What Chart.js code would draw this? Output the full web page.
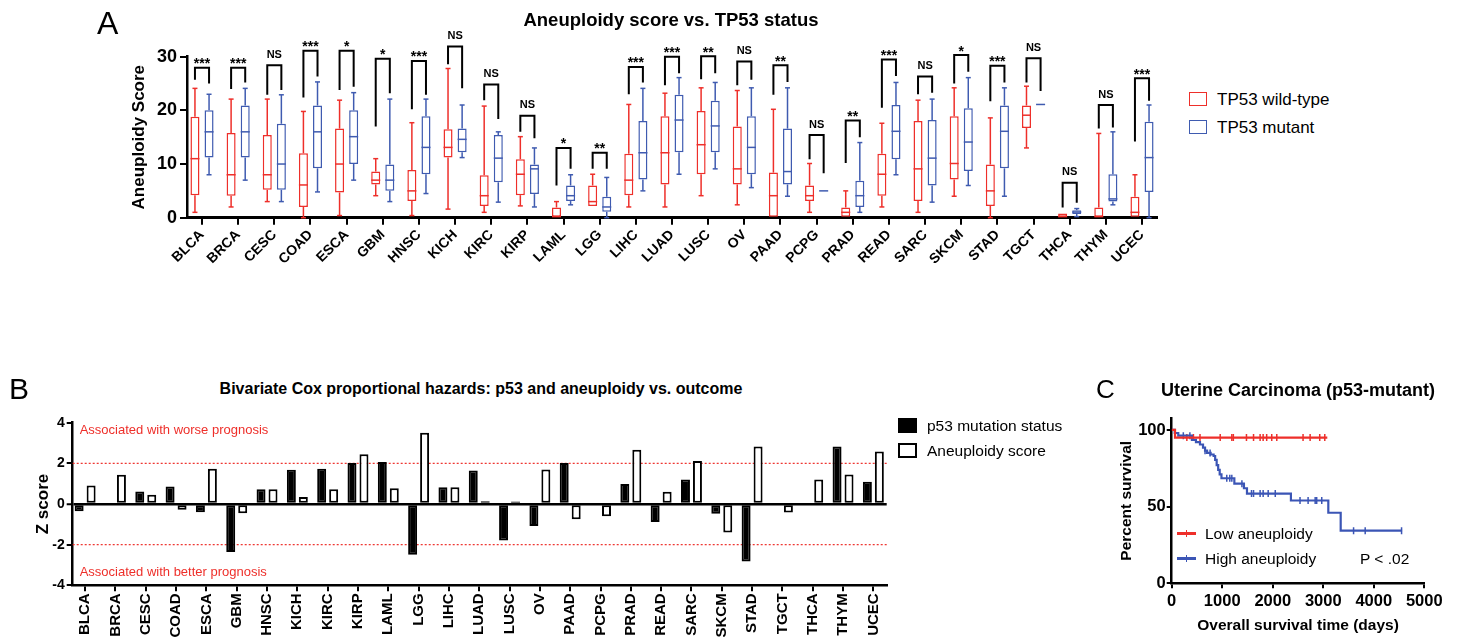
<!DOCTYPE html>
<html>
<head>
<meta charset="utf-8">
<script src="https://cdn.jsdelivr.net/npm/chart.js@4"></script>
<style>
body { margin: 0; background: #fff; font-family: "Liberation Sans", Arial, sans-serif; }
#page { position: relative; width: 1457px; height: 641px; overflow: hidden; background: #fff; }
canvas { position: absolute; }
.txt { position: absolute; white-space: nowrap; color: #000; line-height: 1; }
.center { transform: translate(-50%, -50%); }
.mid { transform: translateY(-50%); }
.bold { font-weight: bold; }
.swatch { position: absolute; box-sizing: border-box; }
</style>
</head>
<body>
<div id="page">
  <canvas id="chartA" width="1170" height="290" style="left:0;top:0"></canvas>
  <canvas id="chartB" width="900" height="241" style="left:0;top:400px"></canvas>
  <canvas id="chartC" width="357" height="241" style="left:1100px;top:400px"></canvas>

  <div class="txt" style="left:97px;top:7px;font-size:32px">A</div>
  <div class="txt bold center" style="left:671px;top:20px;font-size:18.5px">Aneuploidy score vs. TP53 status</div>
  <div class="swatch" style="left:1189px;top:92px;width:18px;height:14px;border:1.5px solid #ee2f2a"></div>
  <div class="txt mid" style="left:1217px;top:99px;font-size:17px">TP53 wild-type</div>
  <div class="swatch" style="left:1189px;top:120px;width:18px;height:14px;border:1.5px solid #3f5bb0"></div>
  <div class="txt mid" style="left:1217px;top:127px;font-size:17px">TP53 mutant</div>

  <div class="txt" style="left:9px;top:374px;font-size:30px">B</div>
  <div class="txt bold center" style="left:481px;top:389px;font-size:16px">Bivariate Cox proportional hazards: p53 and aneuploidy vs. outcome</div>
  <div class="swatch" style="left:898px;top:418px;width:19px;height:15px;background:#000"></div>
  <div class="txt mid" style="left:927px;top:426px;font-size:15.5px">p53 mutation status</div>
  <div class="swatch" style="left:898px;top:443px;width:19px;height:15px;border:2px solid #000;background:#fff"></div>
  <div class="txt mid" style="left:927px;top:451px;font-size:15.5px">Aneuploidy score</div>

  <div class="txt" style="left:1096px;top:376px;font-size:26px">C</div>
  <div class="txt bold center" style="left:1298px;top:390px;font-size:18px">Uterine Carcinoma (p53-mutant)</div>
  <div class="swatch" style="left:1177px;top:532px;width:19px;height:2.5px;background:#ee2f2a"></div>
  <div class="swatch" style="left:1185.5px;top:530px;width:1.5px;height:7px;background:#ee2f2a"></div>
  <div class="txt mid" style="left:1205px;top:534px;font-size:15.5px">Low aneuploidy</div>
  <div class="swatch" style="left:1177px;top:557px;width:19px;height:2.5px;background:#3b55b5"></div>
  <div class="swatch" style="left:1185.5px;top:555px;width:1.5px;height:7px;background:#3b55b5"></div>
  <div class="txt mid" style="left:1205px;top:559px;font-size:15.5px">High aneuploidy</div>
  <div class="txt mid" style="left:1360px;top:559px;font-size:15.5px">P &lt; .02</div>
</div>

<script>
const cancerTypes = ['BLCA', 'BRCA', 'CESC', 'COAD', 'ESCA', 'GBM', 'HNSC', 'KICH', 'KIRC', 'KIRP', 'LAML', 'LGG', 'LIHC',
    'LUAD', 'LUSC', 'OV', 'PAAD', 'PCPG', 'PRAD', 'READ', 'SARC', 'SKCM', 'STAD', 'TGCT', 'THCA', 'THYM', 'UCEC'];

// Panel A: box plots (whisker low, q1, median, q3, whisker high)
const wtMin = [1, 2, 3, 0, 0.4, 4.1, 0.4, 1.6, 1, 2.2, 0, 2.2, 2, 2, 4.1, 2.4, 0, 1, 0, 2, 1, 4, 0, 13, 0, 0, 0];
const wtQ1 = [4.2, 4.1, 5.2, 2, 4.7, 6.2, 3.1, 11.2, 2.2, 4.2, 0, 2.2, 4.2, 6.2, 8.1, 6.2, 0, 3.1, 0, 4.1, 3.1, 7.1, 2.2, 16.7, 0, 0, 0];
const wtMed = [11, 8, 8, 6.1, 10, 7, 5, 13.1, 4.1, 8.1, 0.2, 3, 7, 12.1, 13.6, 9.1, 4.1, 4.1, 1, 8.1, 9.1, 10.1, 5, 19.1, 0.2, 0.2, 1];
const wtQ3 = [18.8, 15.8, 15.4, 12, 16.6, 8.6, 8.9, 16.5, 7.9, 10.9, 1.9, 6, 11.9, 18.9, 19.9, 17, 8.4, 6, 1.9, 11.9, 18, 18.9, 9.9, 20.9, 0.8, 1.9, 3.9];
const wtMax = [24.1, 22.1, 22.1, 19.8, 21.9, 11, 17.7, 27.8, 20.8, 15.1, 3, 8.1, 21.1, 23.2, 24.2, 23.7, 20.2, 10.1, 5, 17.6, 21.9, 24.2, 18.6, 24.5, 0.8, 15.7, 8];

const mutMin = [8, 7, 3, 4.8, 7, 3, 4.5, 11.2, 2.9, 2, 2.4, 0, 5, 8.1, 9.1, 5.6, 4, 5, 1, 8, 2.9, 6, 4, 21.1, 0.2, 2.4, 0];
const mutQ1 = [11.2, 11.2, 5.2, 9.2, 10, 5, 8.1, 12.2, 6.6, 4.4, 3.1, 1.1, 7.1, 12.2, 12.2, 8.1, 6.2, 5, 2, 10.9, 6, 8.7, 9.2, 21.1, 0.7, 3, 4.8];
const mutMed = [16, 16, 10, 16, 15.1, 7, 13.1, 14.6, 11.1, 9.1, 4.1, 2, 12.1, 18.2, 17.1, 13.1, 8.6, 5, 4.1, 16.1, 11.1, 14.1, 16.1, 21.1, 1.05, 3.5, 11.2];
const mutQ3 = [20, 20.9, 17.5, 20.9, 20, 9.9, 18.9, 16.6, 15.4, 9.9, 6, 3.9, 18, 22.9, 21.8, 18.9, 16.6, 5, 6.9, 21, 18.2, 20.4, 20.9, 21.1, 1.4, 8.1, 17.9];
const mutMax = [23, 24.1, 22.9, 25.3, 23.3, 22.1, 22.1, 21, 16, 13, 8, 7.5, 24.1, 26.1, 25.2, 24.2, 24.2, 5, 14, 25.2, 22.1, 26.1, 24.2, 21.1, 1.7, 16, 21];

// significance brackets: top of bracket, bottom of left leg, bottom of right leg
const bracketTop = [27.95, 27.95, 28.4, 31.1, 31.1, 29.6, 29.2, 31.9, 24.8, 19, 13, 12.1, 28.1, 30, 30.1, 29.1, 28.4, 15.4, 18.1, 29.5, 26.3, 30.3, 28.3, 29.7, 6.5, 21, 26];
const bracketLeft = [25.7, 24, 22.9, 22.4, 23.8, 17, 20.2, 28.6, 21.9, 16, 6, 9.1, 23, 24.7, 25.8, 24.7, 22.9, 10.9, 10.2, 20.5, 23, 25, 21.7, 25.2, 1.9, 16.6, 14.2];
const bracketRight = [25, 25.2, 23.8, 26.3, 24.4, 23.2, 22.9, 24.1, 18.4, 14.8, 9.1, 9.1, 25.2, 26.9, 26.9, 25.7, 25.3, 8.3, 15, 26.4, 23.3, 27.2, 25.2, 23.6, 2.8, 16.8, 21.8];
const sigLabels = ['***', '***', 'NS', '***', '*', '*', '***', 'NS', 'NS', 'NS', '*', '**', '***', '***', '**', 'NS', '**', 'NS', '**', '***', 'NS', '*', '***', 'NS', 'NS', 'NS', '***'];
const scoreTicks = [0, 10, 20, 30];

// Panel B: Z scores
const p53Z = [-0.36, 0, 0.61, 0.86, -0.41, -2.36, 0.73, 1.69, 1.74, 2.02, 2.07, -2.5, 0.82, 1.65, -1.8, -1.08, 2.02, 0, 0.98, -0.88, 1.2, -0.48, -2.83, 0, 0, 2.83, 1.1];
const aneuZ = [0.91, 1.44, 0.46, -0.28, 1.74, -0.46, 0.73, 0.35, 0.73, 2.45, 0.77, 3.5, 0.82, 0.13, 0.12, 1.7, -0.75, -0.6, 2.67, 0.6, 2.12, -1.4, 2.83, -0.42, 1.2, 1.45, 2.58];
const zTicks = [-4, -2, 0, 2, 4];
const refLines = [2, -2];
const noteTexts = ['Associated with worse prognosis', 'Associated with better prognosis'];
const noteZ = [3.64, -3.35];

// Panel C: Kaplan-Meier steps (day of drop, percent after it)
const lowTimes = [0, 66, 3080];
const lowPct = [100, 95, 95];
const lowCensor = [300, 430, 560, 960, 1190, 1220, 1480, 1620, 1750, 1810, 1880, 1980, 2080, 2600, 2740, 2930, 3030];
const highTimes = [0, 60, 130, 400, 480, 560, 620, 660, 700, 770, 830, 860, 890, 920, 950, 985, 1240, 1430, 1490, 2360, 3100, 3345, 4560];
const highPct = [100, 98, 96.3, 93.5, 92, 90.5, 88.5, 86.5, 85, 84, 83, 80.5, 77, 74, 71, 68.5, 65, 62, 58.5, 54, 46, 34.3, 34.3];
const highCensor = [230, 360, 660, 760, 1090, 1150, 1190, 1390, 1580, 1620, 1750, 1810, 1910, 2050, 2540, 2700, 2840, 2870, 2970, 3600, 3830, 4550];
const dayTicks = [0, 1000, 2000, 3000, 4000, 5000];
const pctTicks = [0, 50, 100];

const RED = '#ee2f2a';
const BLUE = '#3f5bb0';
const KM_BLUE = '#3b55b5';
const FONT = "'Liberation Sans', Arial, sans-serif";

Chart.defaults.font.family = FONT;
Chart.defaults.color = '#000';
Chart.defaults.animation = false;
Chart.defaults.plugins.legend.display = false;
Chart.defaults.plugins.tooltip.enabled = false;

function setTicks(values) {
    return (scale) => { scale.ticks = values.map(v => ({ value: v })); };
}

function line(ctx, x1, y1, x2, y2) {
    ctx.beginPath();
    ctx.moveTo(x1, y1);
    ctx.lineTo(x2, y2);
    ctx.stroke();
}

// whiskers, medians and the significance brackets
const boxExtras = {
    id: 'boxExtras',
    afterDatasetsDraw(chart) {
        const ctx = chart.ctx;
        const y = chart.scales.y;
        const stats = [
            { color: RED, min: wtMin, med: wtMed, q1: wtQ1, q3: wtQ3, max: wtMax },
            { color: BLUE, min: mutMin, med: mutMed, q1: mutQ1, q3: mutQ3, max: mutMax }
        ];
        ctx.save();
        stats.forEach((s, d) => {
            const meta = chart.getDatasetMeta(d);
            ctx.strokeStyle = s.color;
            ctx.lineWidth = 1.5;
            meta.data.forEach((bar, i) => {
                const x = bar.x;
                const hw = bar.width / 2;
                const pMed = y.getPixelForValue(s.med[i]);
                line(ctx, x - hw, pMed, x + hw, pMed);
                if (s.max[i] > s.q3[i]) {
                    const pMax = y.getPixelForValue(s.max[i]);
                    line(ctx, x, y.getPixelForValue(s.q3[i]), x, pMax);
                    line(ctx, x - 2.5, pMax, x + 2.5, pMax);
                }
                if (s.min[i] < s.q1[i]) {
                    const pMin = y.getPixelForValue(s.min[i]);
                    line(ctx, x, y.getPixelForValue(s.q1[i]), x, pMin);
                    line(ctx, x - 2.5, pMin, x + 2.5, pMin);
                }
            });
        });

        const left = chart.getDatasetMeta(0).data;
        const right = chart.getDatasetMeta(1).data;
        ctx.strokeStyle = '#000';
        ctx.fillStyle = '#000';
        ctx.lineWidth = 2;
        ctx.textAlign = 'center';
        ctx.textBaseline = 'alphabetic';
        cancerTypes.forEach((c, i) => {
            const xl = left[i].x;
            const xr = right[i].x;
            const top = y.getPixelForValue(bracketTop[i]);
            ctx.beginPath();
            ctx.moveTo(xl, y.getPixelForValue(bracketLeft[i]));
            ctx.lineTo(xl, top);
            ctx.lineTo(xr, top);
            ctx.lineTo(xr, y.getPixelForValue(bracketRight[i]));
            ctx.stroke();
            if (sigLabels[i] === 'NS') {
                ctx.font = 'bold 11px ' + FONT;
                ctx.fillText('NS', (xl + xr) / 2, top - 7.5);
            } else {
                ctx.font = 'bold 14px ' + FONT;
                ctx.fillText(sigLabels[i], (xl + xr) / 2, top + 0.5);
            }
        });
        ctx.restore();
    }
};

// dotted +/-2 lines and the notes inside panel B
const zoneLines = {
    id: 'zoneLines',
    beforeDatasetsDraw(chart) {
        const { ctx, chartArea, scales } = chart;
        ctx.save();
        ctx.strokeStyle = RED;
        ctx.lineWidth = 1.2;
        ctx.setLineDash([2, 2]);
        refLines.forEach(v => {
            const py = scales.y.getPixelForValue(v);
            line(ctx, chartArea.left, py, chartArea.right, py);
        });
        ctx.setLineDash([]);
        ctx.fillStyle = RED;
        ctx.font = '13px ' + FONT;
        ctx.textBaseline = 'middle';
        noteTexts.forEach((t, i) => ctx.fillText(t, chartArea.left + 7, scales.y.getPixelForValue(noteZ[i])));
        ctx.restore();
    }
};

function axisGrid(len) {
    return { display: true, drawOnChartArea: false, drawTicks: true, tickLength: len, color: '#000', lineWidth: 2 };
}

function loadChartA() {
    const boxData = (q1, q3) => cancerTypes.map((c, i) => ({ x: i, y: [q1[i], q3[i]] }));
    new Chart(document.getElementById('chartA'), {
        type: 'bar',
        data: {
            datasets: [
                { label: 'TP53 wild-type', data: boxData(wtQ1, wtQ3), backgroundColor: '#fff', borderColor: RED, borderWidth: 1.5, borderSkipped: false },
                { label: 'TP53 mutant', data: boxData(mutQ1, mutQ3), backgroundColor: '#fff', borderColor: BLUE, borderWidth: 1.5, borderSkipped: false }
            ]
        },
        options: {
            responsive: false,
            categoryPercentage: 0.78,
            barPercentage: 0.64,
            layout: { padding: { left: 124.8, top: 56.7, right: 13, bottom: 0 } },
            scales: {
                x: {
                    type: 'linear', min: -0.415, max: 26.415, offset: false,
                    afterBuildTicks: setTicks(cancerTypes.map((c, i) => i)),
                    afterFit: (s) => { s.height = 72.3; },
                    grid: Object.assign(axisGrid(7), { offset: false }),
                    border: { color: '#000', width: 3 },
                    ticks: { autoSkip: false, minRotation: 45, maxRotation: 45, padding: 2, font: { size: 14, weight: 'bold' }, callback: (v) => cancerTypes[v] }
                },
                y: {
                    min: 0, max: 30,
                    afterBuildTicks: setTicks(scoreTicks),
                    afterFit: (s) => { s.width = 62.2; },
                    grid: axisGrid(7),
                    border: { color: '#000', width: 2.5 },
                    ticks: { padding: 3, font: { size: 18, weight: 'bold' } },
                    title: { display: true, text: 'Aneuploidy Score', font: { size: 17, weight: 'bold' }, padding: { top: 4, bottom: 4 } }
                }
            }
        },
        plugins: [boxExtras]
    });
}

function loadChartB() {
    const zData = (vals) => cancerTypes.map((c, i) => ({ x: i, y: vals[i] }));
    const zeroLine = (ctx) => ctx.tick && ctx.tick.value === 0;
    new Chart(document.getElementById('chartB'), {
        type: 'bar',
        data: {
            datasets: [
                { label: 'p53 mutation status', data: zData(p53Z), backgroundColor: '#000', borderColor: '#000', borderWidth: 2, borderSkipped: false },
                { label: 'Aneuploidy score', data: zData(aneuZ), backgroundColor: '#fff', borderColor: '#000', borderWidth: 2, borderSkipped: false }
            ]
        },
        options: {
            responsive: false,
            categoryPercentage: 0.79,
            barPercentage: 0.75,
            layout: { padding: { left: 28.8, top: 22.7, right: 13.3, bottom: 2.7 } },
            scales: {
                x: {
                    type: 'linear', min: -0.41, max: 26.44, offset: false,
                    afterBuildTicks: setTicks(cancerTypes.map((c, i) => i)),
                    afterFit: (s) => { s.height = 53; },
                    grid: Object.assign(axisGrid(6), { offset: false }),
                    border: { color: '#000', width: 2.5 },
                    ticks: { autoSkip: false, minRotation: 90, maxRotation: 90, padding: 2, font: { size: 15, weight: 'bold' }, callback: (v) => cancerTypes[v] }
                },
                y: {
                    min: -4, max: 4,
                    afterBuildTicks: setTicks(zTicks),
                    afterFit: (s) => { s.width = 43.9; },
                    grid: {
                        display: true, drawOnChartArea: true, drawTicks: true, tickLength: 6,
                        color: (ctx) => zeroLine(ctx) ? '#000' : 'rgba(0,0,0,0)',
                        lineWidth: (ctx) => zeroLine(ctx) ? 2.5 : 0,
                        tickColor: '#000', tickWidth: 2
                    },
                    border: { color: '#000', width: 2.5 },
                    ticks: { padding: 2, font: { size: 14, weight: 'bold' } },
                    title: { display: true, text: 'Z score', font: { size: 17, weight: 'bold' }, padding: { top: 4, bottom: 4 } }
                }
            }
        },
        plugins: [zoneLines]
    });
}

function survivalAt(times, pcts, t) {
    let v = pcts[0];
    for (let i = 0; i < times.length; i++) {
        if (times[i] <= t) v = pcts[i];
    }
    return v;
}

function loadChartC() {
    const steps = (times, pcts) => times.map((t, i) => ({ x: t, y: pcts[i] }));
    const censor = (days, times, pcts) => days.map(t => ({ x: t, y: survivalAt(times, pcts, t) }));
    const censorSet = (label, data, color) => ({
        label: label, data: data, showLine: false, borderColor: color, backgroundColor: color,
        pointStyle: 'line', rotation: 90, pointRadius: 3.5, pointBorderWidth: 1.5
    });
    new Chart(document.getElementById('chartC'), {
        type: 'line',
        data: {
            datasets: [
                { label: 'Low aneuploidy', data: steps(lowTimes, lowPct), stepped: 'before', borderColor: RED, borderWidth: 2.2, pointRadius: 0 },
                { label: 'High aneuploidy', data: steps(highTimes, highPct), stepped: 'before', borderColor: KM_BLUE, borderWidth: 2.2, pointRadius: 0 },
                censorSet('Low censored', censor(lowCensor, lowTimes, lowPct), RED),
                censorSet('High censored', censor(highCensor, highTimes, highPct), KM_BLUE)
            ]
        },
        options: {
            responsive: false,
            layout: { padding: { left: 13.7, top: 18.3, right: 32.7, bottom: 1.7 } },
            scales: {
                x: {
                    type: 'linear', min: 0, max: 5000,
                    afterBuildTicks: setTicks(dayTicks),
                    afterFit: (s) => { s.height = 56; },
                    grid: axisGrid(5),
                    border: { color: '#000', width: 2.5 },
                    ticks: { padding: 3, maxRotation: 0, font: { size: 16.5, weight: 'bold' }, callback: (v) => String(v) },
                    title: { display: true, text: 'Overall survival time (days)', font: { size: 15.5, weight: 'bold' }, padding: { top: 4, bottom: 4 } }
                },
                y: {
                    min: 0, max: 107.6,
                    afterBuildTicks: setTicks(pctTicks),
                    afterFit: (s) => { s.width = 58; },
                    grid: axisGrid(5),
                    border: { color: '#000', width: 2.5 },
                    ticks: { padding: 1, font: { size: 16.5, weight: 'bold' }, callback: (v) => String(v) },
                    title: { display: true, text: 'Percent survival', font: { size: 15.5, weight: 'bold' }, padding: { top: 4, bottom: 4 } }
                }
            }
        }
    });
}

window.onload = () => {
    loadChartA();
    loadChartB();
    loadChartC();
};
</script>
</body>
</html>
